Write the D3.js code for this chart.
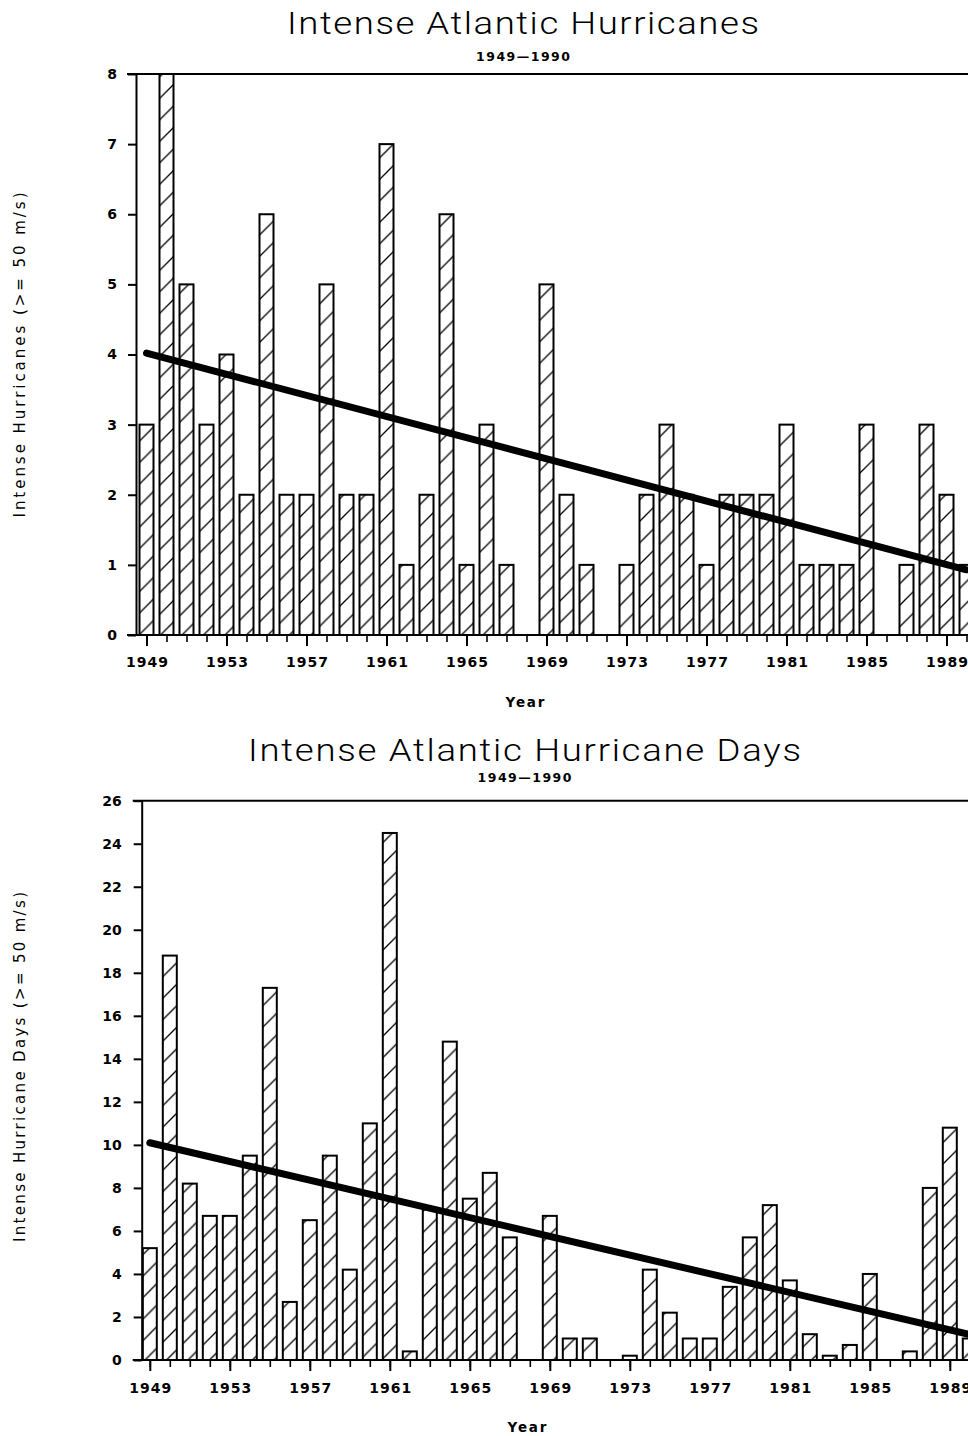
<!DOCTYPE html>
<html><head><meta charset="utf-8">
<script src="https://cdn.jsdelivr.net/npm/d3@7"></script>
<style>body{margin:0;background:#fff} svg{display:block;background:#fff}</style>
</head><body><svg id="c" width="968" height="1436"></svg>
<script>
const years = [1949,1950,1951,1952,1953,1954,1955,1956,1957,1958,1959,1960,1961,1962,1963,1964,1965,1966,1967,1968,1969,1970,1971,1972,1973,1974,1975,1976,1977,1978,1979,1980,1981,1982,1983,1984,1985,1986,1987,1988,1989,1990];
const hurricanes = [3,8,5,3,4,2,6,2,2,5,2,2,7,1,2,6,1,3,1,0,5,2,1,0,1,2,3,2,1,2,2,2,3,1,1,1,3,0,1,3,2,1];
const hurricaneDays = [5.2,18.8,8.2,6.7,6.7,9.5,17.3,2.7,6.5,9.5,4.2,11.0,24.5,0.4,7.0,14.8,7.5,8.7,5.7,0,6.7,1.0,1.0,0,0.2,4.2,2.2,1.0,1.0,3.4,5.7,7.2,3.7,1.2,0.2,0.7,4.0,0,0.4,8.0,10.8,1.0];
const trendHurricanes = [4.02, 0.93];   // trend value at 1949 and 1990
const trendDays = [10.1, 1.18];
const labelYears = [1949,1953,1957,1961,1965,1969,1973,1977,1981,1985,1989];
const ticksHurricanes = [0,1,2,3,4,5,6,7,8];
const ticksDays = [0,2,4,6,8,10,12,14,16,18,20,22,24,26];

const svg = d3.select('#c');
const defs = svg.append('defs');
const pat = defs.append('pattern').attr('id','hatch').attr('patternUnits','userSpaceOnUse')
  .attr('width',21.5).attr('height',21.5);
pat.append('rect').attr('width',21.5).attr('height',21.5).attr('fill','#fff');
pat.append('path').attr('d','M0,21.5L21.5,0M-3,3L3,-3M18.5,24.5L24.5,18.5')
  .attr('stroke','#000').attr('stroke-width',1.3).attr('fill','none');

const LBL = '"DejaVu Sans", "Liberation Sans", sans-serif';
const TSX = 1.18; // horizontal stretch of title glyphs

function panel(o){
  const x = d3.scaleLinear().domain([1949,1990]).range([o.x0, o.x0 + 41*20]);
  const y = d3.scaleLinear().domain([0,o.yMax]).range([o.yBase, o.yTopPx]);
  const g = svg.append('g');

  g.append('text').attr('transform',`translate(${o.titleCx},${o.titleY}) scale(${TSX},1)`)
    .attr('text-anchor','middle')
    .attr('textLength',o.titleW/TSX).attr('lengthAdjust','spacing')
    .style('font-family','Roboto, "DejaVu Sans", sans-serif').style('font-weight',300)
    .style('font-size','31px').attr('fill','#000').text(o.title);
  g.append('text').attr('x',o.titleCx).attr('y',o.subY).attr('text-anchor','middle')
    .attr('textLength',94).attr('lengthAdjust','spacing')
    .style('font-family',LBL).style('font-weight',700).style('font-size','12.5px').text('1949\u20141990');

  // bars
  const rows = years.map((yr,i)=>({yr, v:o.data[i]})).filter(d=>d.v>0);
  g.append('g').selectAll('rect').data(rows).join('rect')
    .attr('x',d=>x(d.yr)-7).attr('width',14)
    .attr('y',d=>y(d.v)).attr('height',d=>y(0)-y(d.v))
    .attr('fill','url(#hatch)').attr('stroke','#000').attr('stroke-width',2);

  // frame lines
  g.append('line').attr('x1',o.axisX-9).attr('x2',990).attr('y1',y(0)).attr('y2',y(0))
    .attr('stroke','#000').attr('stroke-width',2);
  g.append('line').attr('x1',o.axisX-9).attr('x2',990).attr('y1',y(o.yMax)).attr('y2',y(o.yMax))
    .attr('stroke','#000').attr('stroke-width',2);

  // y axis
  const ya = g.append('g').attr('transform',`translate(${o.axisX},0)`)
    .call(d3.axisLeft(y).tickValues(o.yTicks).tickSize(8).tickSizeOuter(0).tickPadding(o.yPad).tickFormat(d3.format('d')));
  ya.select('.domain').attr('stroke','#000').attr('stroke-width',2);
  ya.selectAll('.tick line').attr('stroke','#000').attr('stroke-width',2);
  ya.selectAll('text').style('font-family',LBL).style('font-weight',700).style('font-size','14px').attr('fill','#000');

  // x axis minor/major ticks
  const xa1 = g.append('g').attr('transform',`translate(0,${y(0)})`)
    .call(d3.axisBottom(x).tickValues(years).tickSize(7).tickFormat(''));
  xa1.select('.domain').remove();
  xa1.selectAll('.tick line').attr('stroke','#000').attr('stroke-width',1.6);
  const xa2 = g.append('g').attr('transform',`translate(0,${y(0)})`)
    .call(d3.axisBottom(x).tickValues(labelYears).tickSize(11).tickPadding(o.xPad).tickFormat(d3.format('d')));
  xa2.select('.domain').remove();
  xa2.selectAll('.tick line').attr('stroke','#000').attr('stroke-width',2);
  xa2.selectAll('text').attr('textLength',42).attr('lengthAdjust','spacing')
    .style('font-family',LBL).style('font-weight',700).style('font-size','14px').attr('fill','#000');

  // trend
  g.append('line').attr('x1',x(1949)).attr('y1',y(o.trend[0])).attr('x2',x(1990)).attr('y2',y(o.trend[1]))
    .attr('stroke','#000').attr('stroke-width',7).attr('stroke-linecap','round');

  // axis titles
  g.append('text').attr('x',o.yearX).attr('y',o.yearY).attr('text-anchor','middle')
    .attr('textLength',39).attr('lengthAdjust','spacing')
    .style('font-family',LBL).style('font-weight',700).style('font-size','13.5px').text('Year');
  g.append('text').attr('transform',`translate(25,${o.yTitleCy}) rotate(-90)`).attr('text-anchor','middle')
    .attr('textLength',o.yTitleLen).attr('lengthAdjust','spacing')
    .style('font-family','"DejaVu Sans", sans-serif').style('font-size','15px').text(o.yTitle);
}

panel({data:hurricanes, trend:trendHurricanes, yMax:8, yTicks:ticksHurricanes,
  yBase:635, yTopPx:74, x0:146.5, axisX:136, yPad:11, xPad:11,
  title:'Intense Atlantic Hurricanes', titleCx:523, titleY:34, titleW:472, subY:61,
  yearX:525, yearY:707, yTitle:'Intense Hurricanes (>= 50 m/s)', yTitleCy:355, yTitleLen:325});

panel({data:hurricaneDays, trend:trendDays, yMax:26, yTicks:ticksDays,
  yBase:1360, yTopPx:800.7, x0:149.8, axisX:141.7, yPad:12, xPad:12,
  title:'Intense Atlantic Hurricane Days', titleCx:524.5, titleY:761, titleW:553, subY:782,
  yearX:527, yearY:1432, yTitle:'Intense Hurricane Days (>= 50 m/s)', yTitleCy:1067, yTitleLen:350});
</script></body></html>
